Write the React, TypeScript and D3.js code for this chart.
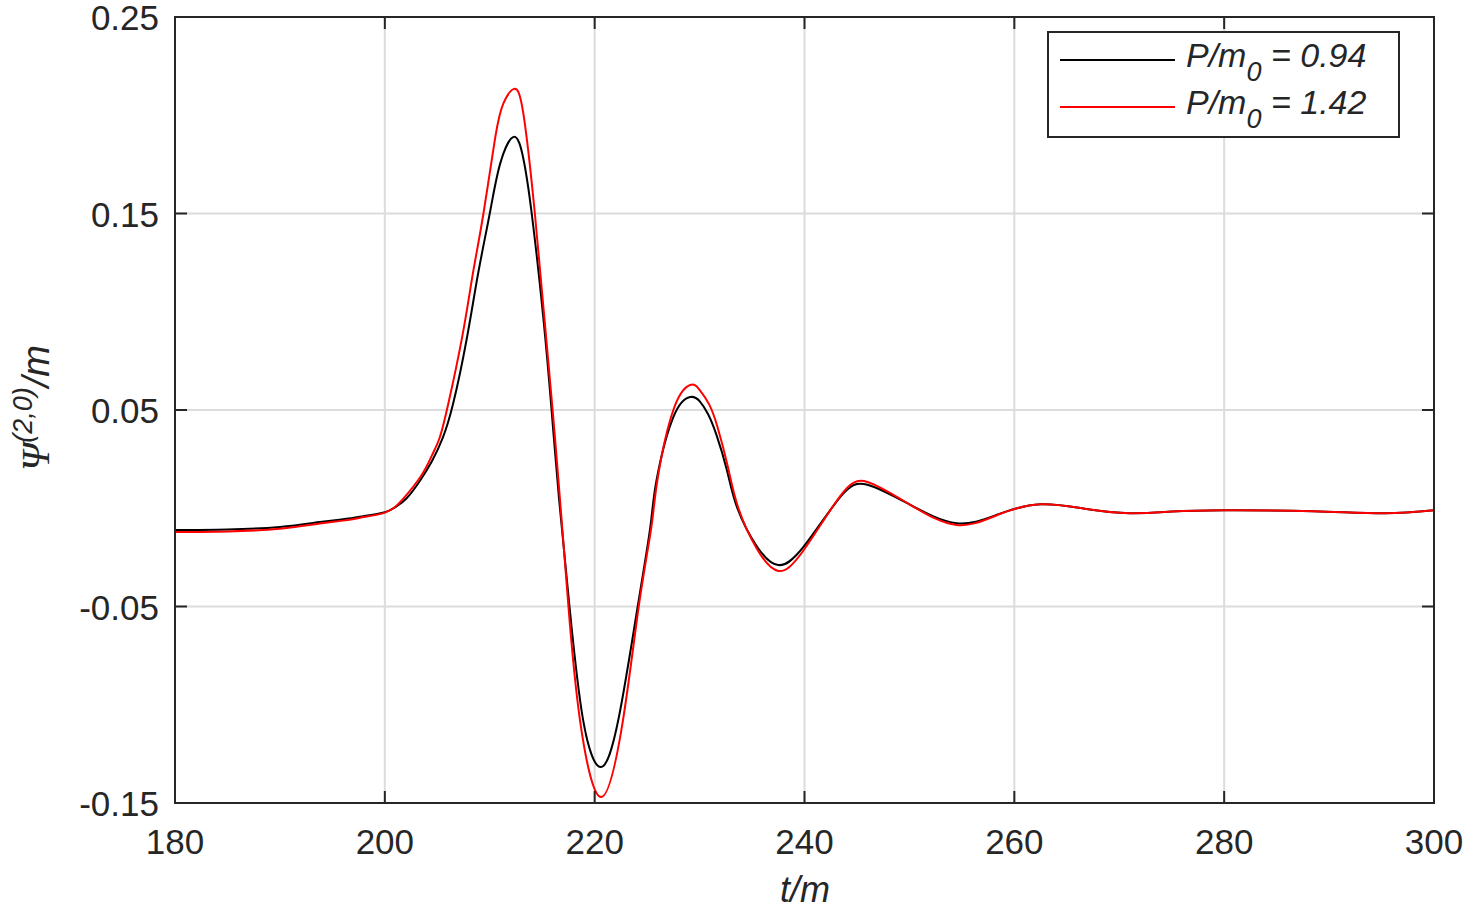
import React from 'react';
import * as d3 from 'd3';

// P/m0 = 0.94 (black)
const tBlack = [180, 185, 190, 193.8, 196, 198, 200, 201, 202.1, 203.4, 204.5, 205.5, 206.5, 207.8, 208.9, 210.0, 211.0, 212.3, 213.2, 214.0, 215.1, 215.9, 216.6, 217.6, 218.9, 220.6, 222.3, 224.1, 225.3, 225.9, 227.5, 229.1, 230.0, 230.8, 231.6, 232.6, 233.6, 235.5, 237.5, 239.9, 243.4, 246.0, 250.0, 254.5, 258.5, 262.5, 266.7, 271.0, 275.0, 280.0, 288.5, 295.3, 300];
const psiBlack = [-0.0111, -0.0108, -0.0095, -0.007, -0.0056, -0.004, -0.002, 0.0005, 0.0052, 0.0144, 0.024, 0.0355, 0.053, 0.086, 0.1197, 0.15, 0.1755, 0.189, 0.178, 0.15, 0.0973, 0.0495, 0.005, -0.05, -0.1078, -0.1317, -0.1065, -0.05, -0.0097, 0.0144, 0.0464, 0.0566, 0.0545, 0.048, 0.0375, 0.0195, 0.0, -0.0197, -0.0289, -0.0197, 0.0057, 0.012, 0.002, -0.0076, -0.003, 0.002, -0.0002, -0.0025, -0.0017, -0.001, -0.0015, -0.0025, -0.001];

// P/m0 = 1.42 (red)
const tRed = [180, 185, 190, 193.8, 196, 198, 200, 201, 201.7, 203.4, 204.5, 205.2, 206.0, 207.4, 208.4, 209.4, 210.5, 211.3, 212.3, 213.2, 214.3, 215.2, 216.0, 216.7, 217.5, 218.6, 220.6, 222.7, 224.2, 225.4, 226.0, 227.5, 229.1, 230.0, 230.9, 231.7, 232.7, 233.7, 235.5, 237.5, 239.9, 243.4, 246.0, 250.0, 254.5, 258.5, 262.5, 266.7, 271.0, 275.0, 280.0, 288.5, 295.3, 300];
const psiRed = [-0.0121, -0.0118, -0.0104, -0.0078, -0.0063, -0.0045, -0.0022, 0.0008, 0.0045, 0.016, 0.027, 0.0355, 0.052, 0.088, 0.1197, 0.15, 0.188, 0.206, 0.2134, 0.201, 0.15, 0.0973, 0.0495, 0.004, -0.05, -0.1078, -0.147, -0.1078, -0.05, -0.0097, 0.015, 0.05, 0.0627, 0.0603, 0.053, 0.0415, 0.021, 0.0, -0.021, -0.0319, -0.0215, 0.0062, 0.0134, 0.002, -0.0085, -0.0032, 0.002, -0.0002, -0.0025, -0.0017, -0.001, -0.0015, -0.0025, -0.001];

const xTicks = [180, 200, 220, 240, 260, 280, 300];
const yTicks = [-0.15, -0.05, 0.05, 0.15, 0.25];
const yTickLabels = ['-0.15', '-0.05', '0.05', '0.15', '0.25'];
const legendValues = ['0.94', '1.42'];
const seriesColors = ['#000000', '#ff0000'];

const W = 1471;
const H = 909;
const M = { left: 175, right: 1434, top: 17, bottom: 803 };
const FONT = '"Liberation Sans", Arial, Helvetica, sans-serif';
const AX = '#262626';

export default function App() {
  const x = d3.scaleLinear().domain([180, 300]).range([M.left, M.right]);
  const y = d3.scaleLinear().domain([-0.15, 0.25]).range([M.bottom, M.top]);
  const line = d3
    .line<[number, number]>()
    .x((d) => x(d[0]))
    .y((d) => y(d[1]))
    .curve(d3.curveNatural);
  const blackData: [number, number][] = tBlack.map((t, i) => [t, psiBlack[i]]);
  const redData: [number, number][] = tRed.map((t, i) => [t, psiRed[i]]);
  const tickLen = 12;

  return (
    <svg width={W} height={H} style={{ position: 'absolute', left: 0, top: 0, background: '#fff' }} fontFamily={FONT}>
      <rect x={0} y={0} width={W} height={H} fill="#fff" />
      {/* grid */}
      {xTicks.map((t) => (
        <line key={'gx' + t} x1={x(t)} x2={x(t)} y1={M.top} y2={M.bottom} stroke="#dcdcdc" strokeWidth={2} />
      ))}
      {yTicks.map((v) => (
        <line key={'gy' + v} x1={M.left} x2={M.right} y1={y(v)} y2={y(v)} stroke="#dcdcdc" strokeWidth={2} />
      ))}
      {/* curves */}
      <path d={line(blackData) || ''} fill="none" stroke={seriesColors[0]} strokeWidth={2} />
      <path d={line(redData) || ''} fill="none" stroke={seriesColors[1]} strokeWidth={2} />
      {/* ticks */}
      {xTicks.map((t) => (
        <g key={'tx' + t}>
          <line x1={x(t)} x2={x(t)} y1={M.bottom} y2={M.bottom - tickLen} stroke={AX} strokeWidth={2} />
          <line x1={x(t)} x2={x(t)} y1={M.top} y2={M.top + tickLen} stroke={AX} strokeWidth={2} />
          <text x={x(t)} y={854} textAnchor="middle" fontSize={35} fill={AX}>
            {t}
          </text>
        </g>
      ))}
      {yTicks.map((v, i) => (
        <g key={'ty' + v}>
          <line x1={M.left} x2={M.left + tickLen} y1={y(v)} y2={y(v)} stroke={AX} strokeWidth={2} />
          <line x1={M.right} x2={M.right - tickLen} y1={y(v)} y2={y(v)} stroke={AX} strokeWidth={2} />
          <text x={159} y={y(v) + 13} textAnchor="end" fontSize={35} fill={AX}>
            {yTickLabels[i]}
          </text>
        </g>
      ))}
      {/* box */}
      <rect x={M.left} y={M.top} width={M.right - M.left} height={M.bottom - M.top} fill="none" stroke={AX} strokeWidth={2} />
      {/* axis labels */}
      <text x={805} y={902} textAnchor="middle" fontSize={36} fontStyle="italic" fill={AX}>
        t/m
      </text>
      <text transform="translate(49,408) rotate(-90)" textAnchor="middle" fontSize={38} fill={AX}>
        <tspan fontFamily='"Liberation Serif", "Times New Roman", serif' fontStyle="italic" fontSize={40}>Ψ</tspan>
        <tspan fontSize={27} dy={-17} fontStyle="italic">(2,0)</tspan>
        <tspan dy={17} fontStyle="italic">/m</tspan>
      </text>
      {/* legend */}
      <rect x={1048} y={32} width={351} height={105} fill="#fff" stroke={AX} strokeWidth={2} />
      {legendValues.map((v, i) => (
        <g key={'lg' + i}>
          <line x1={1060} x2={1175} y1={60 + i * 47} y2={60 + i * 47} stroke={seriesColors[i]} strokeWidth={2} />
          <text x={1186} y={67 + i * 47} fontSize={34} fontStyle="italic" fill={AX}>
            <tspan>P/m</tspan>
            <tspan fontSize={27} dy={14}>0</tspan>
            <tspan dy={-14}>{' = ' + v}</tspan>
          </text>
        </g>
      ))}
    </svg>
  );
}
